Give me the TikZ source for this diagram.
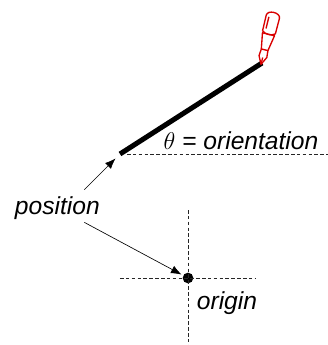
\documentclass[tikz,border=0pt]{standalone}
\usepackage{fontspec}
\setmainfont{Liberation Sans}
\usetikzlibrary{arrows.meta,positioning,calc}
\tikzset{
    guide/.style={densely dashed, line width=0.45pt, black!85},
    pointer/.style={-{Latex[length=9pt,width=7pt]}, line width=0.55pt},
    label/.style={font=\fontsize{21}{21}\selectfont\itshape, inner sep=0pt},
    penline/.style={draw=red!85!black, line width=1.15pt, line join=round}
}
\begin{document}
\begin{tikzpicture}
        \useasboundingbox (0,0) rectangle (9.84,10.35);
        % Eixos tracejados
        \coordinate (tail) at (3.6,5.73);
        \coordinate (tip) at (7.86,8.46);
        \node[circle, fill=black, minimum size=0.32cm, inner sep=0pt, outer sep=0pt] (origin) at (5.64,2.01) {};
        \coordinate (axisW) at (3.6,2.01);
        \coordinate (axisE) at (7.68,2.01);
        \coordinate (axisN) at (5.64,4.05);
        \coordinate (axisS) at (5.64,0);
        \draw[guide] (axisW) -- (axisE);
        \draw[guide] (axisN) -- (axisS);
        \coordinate (headL) at (3.81,5.73);
        \coordinate (headR) at (9.84,5.73);
        \draw[guide] (headL) -- (headR);
        % Traço grosso
        \draw[line width=4.3pt] (tail) -- (tip);
        % Caneta
        \begin{scope}[shift={(7.83,8.42)}, rotate=-14, scale=0.03]
            \draw[penline] (0,0) -- (-4,8) -- (-3.4,15) -- (3.4,15) -- (4,8) -- cycle;
            \draw[penline] (0,1) -- (0,7);
            \draw[penline] (-3.4,15) -- (-6.2,31) -- (6.2,31) -- (3.4,15);
            \draw[penline] (-6.6,33) -- (-6.8,49) .. controls (-6.8,55) and (6.8,55) .. (6.8,49) -- (6.6,33) .. controls (3,30) and (-3,30) .. (-6.6,33);
            \draw[penline] (-3.8,36) -- (-3.8,48);
        \end{scope}
        % Rótulos
        \node[label] (orientation) at (7.23,6.12) {$\theta$ = orientation};
        \node[label] (position) at (1.72,4.11) {position};
        \node[label] (originlabel) at (6.81,1.26) {origin};
        % Setas
        \draw[pointer, shorten >=0.19cm] ([xshift=0.81cm,yshift=0.2cm]position.north) -- (tail);
        \draw[pointer, shorten >=0.06cm] ([xshift=0.81cm,yshift=-0.08cm]position.south) -- (origin);
\end{tikzpicture}
\end{document}
